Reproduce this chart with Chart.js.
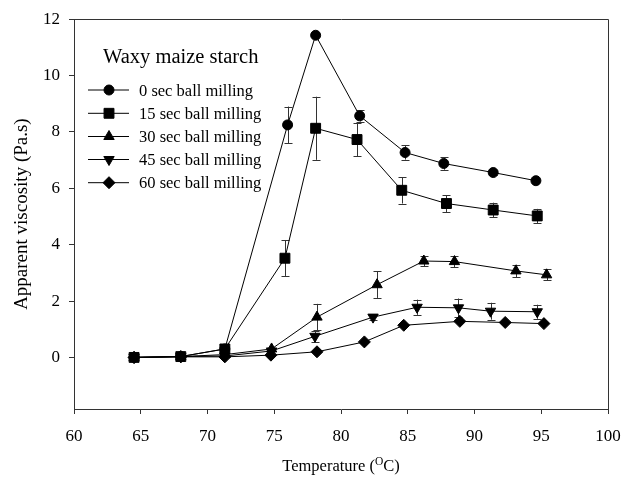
<!DOCTYPE html>
<html>
<head>
<meta charset="utf-8">
<script src="https://cdn.jsdelivr.net/npm/chart.js@4"></script>
<style>
  html, body { margin: 0; padding: 0; background: #fff; }
  #wrap { width: 621px; height: 486px; }
</style>
</head>
<body>
<div id="wrap"><canvas id="c" width="621" height="486"></canvas></div>
<script>
const legendTitle = "Waxy maize starch";
const seriesNames = ["0 sec ball milling", "15 sec ball milling", "30 sec ball milling", "45 sec ball milling", "60 sec ball milling"];
const xTitle = ["Temperature (", "O", "C)"];
const yTitle = "Apparent viscosity (Pa.s)";
const xTicks = [60, 65, 70, 75, 80, 85, 90, 95, 100];
const yTicks = [0, 2, 4, 6, 8, 10, 12];

const temp0  = [64.5, 68.0, 71.3, 76.0, 78.1, 81.4, 84.8, 87.7, 91.4, 94.6];
const visc0  = [0.0, 0.03, 0.30, 8.25, 11.43, 8.57, 7.27, 6.88, 6.56, 6.27];
const err0   = [0, 0, 0, 0.65, 0, 0.2, 0.25, 0.22, 0.1, 0];

const temp15 = [64.5, 68.0, 71.3, 75.8, 78.1, 81.2, 84.55, 87.9, 91.4, 94.7];
const visc15 = [0.0, 0.03, 0.30, 3.52, 8.13, 7.73, 5.93, 5.46, 5.23, 5.02];
const err15  = [0, 0, 0, 0.63, 1.12, 0.6, 0.47, 0.3, 0.26, 0.25];

const temp30 = [64.5, 68.0, 71.3, 74.8, 78.2, 82.7, 86.2, 88.5, 93.1, 95.4];
const visc30 = [0.0, 0.03, 0.10, 0.30, 1.43, 2.58, 3.42, 3.40, 3.07, 2.93];
const err30  = [0, 0, 0, 0, 0.47, 0.47, 0.19, 0.2, 0.22, 0.2];

const temp45 = [64.5, 68.0, 71.3, 74.8, 78.05, 82.4, 85.7, 88.8, 91.2, 94.7];
const visc45 = [0.0, 0.03, 0.05, 0.23, 0.75, 1.43, 1.78, 1.76, 1.64, 1.62];
const err45  = [0, 0, 0, 0, 0.2, 0.1, 0.27, 0.33, 0.3, 0.25];

const temp60 = [64.5, 68.0, 71.3, 74.75, 78.2, 81.75, 84.7, 88.9, 92.3, 95.2];
const visc60 = [0.0, 0.02, 0.02, 0.08, 0.20, 0.55, 1.14, 1.28, 1.24, 1.20];
const err60  = [0, 0, 0, 0, 0, 0, 0, 0, 0, 0];

const temps = [temp0, temp15, temp30, temp45, temp60];
const viscs = [visc0, visc15, visc30, visc45, visc60];
const errs  = [err0, err15, err30, err45, err60];

const styles = [
  { pointStyle: 'circle',   radius: 5,   rotation: 0 },
  { pointStyle: 'rect',     radius: 7,   rotation: 0 },
  { pointStyle: 'triangle', radius: 6,   rotation: 0 },
  { pointStyle: 'triangle', radius: 6,   rotation: 180 },
  { pointStyle: 'rectRot',  radius: 6,   rotation: 0 }
];

const SERIF = "'Liberation Serif', 'Times New Roman', serif";
const INK = '#000';
const AXIS = '#333';

const datasets = seriesNames.map((name, i) => ({
  label: name,
  data: temps[i].map((t, j) => ({ x: t, y: viscs[i][j] })),
  showLine: true,
  borderColor: INK,
  borderWidth: 1,
  backgroundColor: INK,
  pointBackgroundColor: INK,
  pointBorderColor: INK,
  pointBorderWidth: 1,
  pointStyle: styles[i].pointStyle,
  pointRadius: styles[i].radius,
  pointRotation: styles[i].rotation,
  tension: 0,
  order: 4 - i
}));

const errorBars = {
  id: 'errorBars',
  beforeDatasetsDraw(chart) {
    const ctx = chart.ctx;
    const ys = chart.scales.y;
    ctx.save();
    ctx.strokeStyle = AXIS;
    ctx.lineWidth = 1;
    chart.data.datasets.forEach((ds, i) => {
      const meta = chart.getDatasetMeta(i);
      meta.data.forEach((el, j) => {
        const e = errs[i][j];
        if (!e) return;
        const v = viscs[i][j];
        const x = Math.round(el.x) + 0.5;
        const yt = ys.getPixelForValue(v + e);
        const yb = ys.getPixelForValue(v - e);
        ctx.beginPath();
        ctx.moveTo(x, yt); ctx.lineTo(x, yb);
        ctx.moveTo(x - 4, Math.round(yt) + 0.5); ctx.lineTo(x + 4, Math.round(yt) + 0.5);
        ctx.moveTo(x - 4, Math.round(yb) + 0.5); ctx.lineTo(x + 4, Math.round(yb) + 0.5);
        ctx.stroke();
      });
    });
    ctx.restore();
  }
};

const frameAndText = {
  id: 'frameAndText',
  afterDraw(chart) {
    const ctx = chart.ctx;
    const a = chart.chartArea;
    ctx.save();
    ctx.strokeStyle = AXIS;
    ctx.lineWidth = 1;
    ctx.beginPath();
    ctx.moveTo(Math.round(a.left) + 0.5, Math.round(a.top) + 0.5);
    ctx.lineTo(Math.round(a.right) + 0.5, Math.round(a.top) + 0.5);
    ctx.lineTo(Math.round(a.right) + 0.5, Math.round(a.bottom) + 0.5);
    ctx.stroke();

    // legend
    ctx.fillStyle = INK;
    ctx.textBaseline = 'alphabetic';
    ctx.textAlign = 'left';
    ctx.font = "20.5px " + SERIF;
    ctx.fillText(legendTitle, 103, 63);
    ctx.font = "16.5px " + SERIF;
    const rowY = [90, 113.3, 136.5, 159.5, 182.7];
    seriesNames.forEach((name, i) => {
      const y = rowY[i];
      ctx.strokeStyle = INK;
      ctx.lineWidth = 1;
      ctx.beginPath();
      ctx.moveTo(88, y); ctx.lineTo(129, y);
      ctx.stroke();
      ctx.fillStyle = INK;
      Chart.helpers.drawPoint(ctx, {
        pointStyle: styles[i].pointStyle,
        radius: styles[i].radius,
        rotation: styles[i].rotation,
        borderWidth: 1
      }, 109, y);
      ctx.fillStyle = INK;
      ctx.fillText(name, 139, y + 5.5);
    });

    // x title with superscript
    const cx = (a.left + a.right) / 2;
    ctx.font = "16.5px " + SERIF;
    const w1 = ctx.measureText(xTitle[0]).width;
    ctx.font = "11.5px " + SERIF;
    const w2 = ctx.measureText(xTitle[1]).width;
    ctx.font = "16.5px " + SERIF;
    const w3 = ctx.measureText(xTitle[2]).width;
    let x0 = cx - (w1 + w2 + w3) / 2;
    const base = 471;
    ctx.fillText(xTitle[0], x0, base);
    ctx.font = "11.5px " + SERIF;
    ctx.fillText(xTitle[1], x0 + w1, base - 6);
    ctx.font = "16.5px " + SERIF;
    ctx.fillText(xTitle[2], x0 + w1 + w2, base);

    // y title
    ctx.translate(22, (a.top + a.bottom) / 2);
    ctx.rotate(-Math.PI / 2);
    ctx.textAlign = 'center';
    ctx.textBaseline = 'middle';
    ctx.font = "19px " + SERIF;
    ctx.fillText(yTitle, 0, 0);
    ctx.restore();
  }
};

new Chart(document.getElementById('c'), {
  type: 'scatter',
  data: { datasets },
  options: {
    responsive: false,
    animation: false,
    devicePixelRatio: 1,
    layout: { padding: { left: 0, right: 0, top: 16, bottom: 0 } },
    plugins: {
      legend: { display: false },
      tooltip: { enabled: false },
      title: { display: false }
    },
    scales: {
      x: {
        type: 'linear',
        min: 60, max: 100,
        afterBuildTicks(scale) { scale.ticks = xTicks.map(v => ({ value: v })); },
        afterFit(scale) { scale.height = 77; scale.paddingRight = 13; scale.paddingLeft = 0; },
        grid: { drawOnChartArea: false, drawTicks: true, tickLength: 5, color: AXIS },
        border: { display: true, color: AXIS, width: 1 },
        ticks: { color: INK, font: { family: SERIF, size: 17 }, padding: 12, maxRotation: 0 },
        title: { display: false }
      },
      y: {
        type: 'linear',
        min: -1.83, max: 12,
        afterBuildTicks(scale) { scale.ticks = yTicks.map(v => ({ value: v })); },
        afterFit(scale) { scale.width = 74; },
        grid: { drawOnChartArea: false, drawTicks: true, tickLength: 5, color: AXIS },
        border: { display: true, color: AXIS, width: 1 },
        ticks: { color: INK, font: { family: SERIF, size: 17 }, padding: 9 },
        title: { display: false }
      }
    }
  },
  plugins: [errorBars, frameAndText]
});
</script>
</body>
</html>
